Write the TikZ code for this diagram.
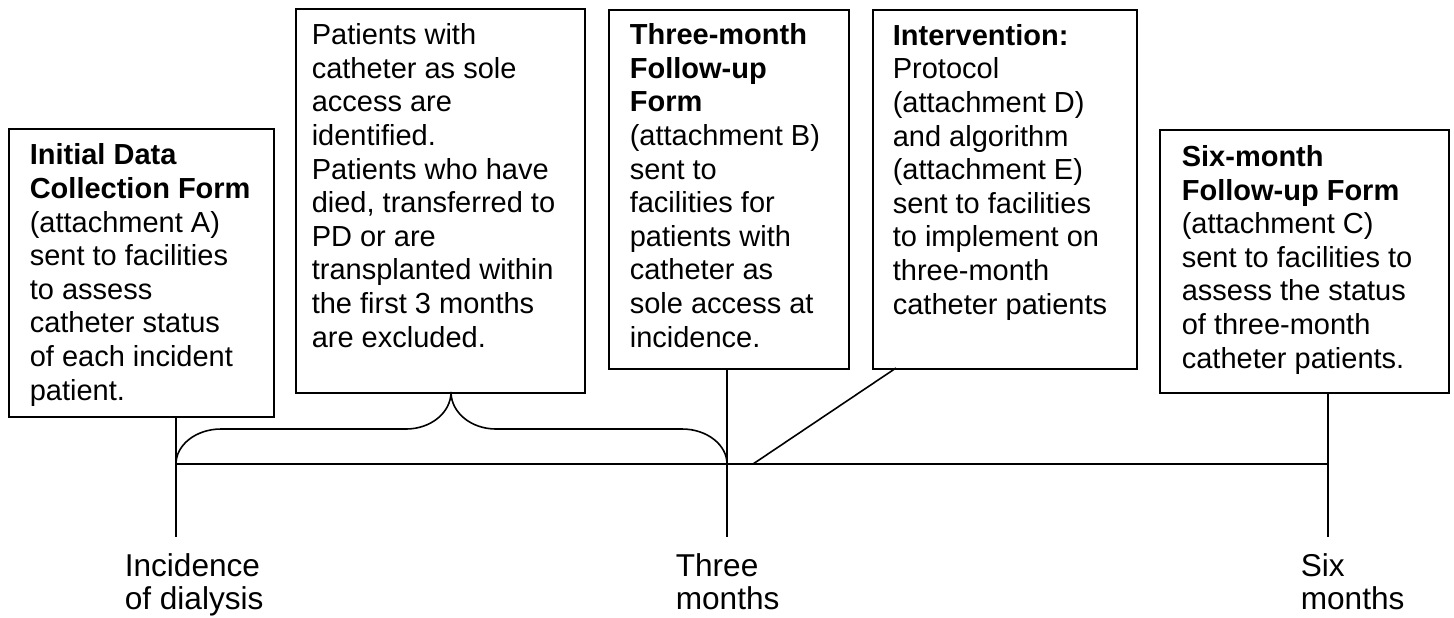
\documentclass[tikz,border=0pt]{standalone}
\usepackage{fontspec}
\setmainfont{Liberation Sans}
\begin{document}
\begin{tikzpicture}[x=0.5pt,y=-0.5pt, line width=0.8pt,
  boxnode/.style={draw, rectangle, inner sep=0pt, anchor=north west},
  boxtext/.style={anchor=base west, inner sep=0pt, align=left, font=\fontsize{14.5pt}{16.8pt}\selectfont},
  lbl/.style={anchor=base west, inner sep=0pt, align=left, font=\fontsize{15.8pt}{16.5pt}\selectfont}]
\useasboundingbox (0,0) rectangle (1454,617);
% boxes
\node[boxnode, minimum width=132.5pt, minimum height=144pt] (b1) at (8,128) {};
\node[boxnode, minimum width=144.5pt, minimum height=192pt] (b2) at (295,8) {};
\node[boxnode, minimum width=120pt, minimum height=179.5pt] (b3) at (608,9) {};
\node[boxnode, minimum width=132pt, minimum height=179.5pt] (b4) at (872,9) {};
\node[boxnode, minimum width=144.5pt, minimum height=131.5pt] (b5) at (1159,129) {};
% box texts (anchored at the baseline of their last line)
\node[boxtext] (t1) at (29,400) {\textbf{Initial Data}\\\textbf{Collection Form}\\(attachment A)\\sent to facilities\\to assess\\catheter status\\of each incident\\patient.};
\node[boxtext] (t2) at (311,347) {Patients with\\catheter as sole\\access are\\identified.\\Patients who have\\died, transferred to\\PD or are\\transplanted within\\the first 3 months\\are excluded.};
\node[boxtext] (t3) at (629,347) {\textbf{Three-month}\\\textbf{Follow-up}\\\textbf{Form}\\(attachment B)\\sent to\\facilities for\\patients with\\catheter as\\sole access at\\incidence.};
\node[boxtext] (t4) at (892,314) {\textbf{Intervention:}\\Protocol\\(attachment D)\\and algorithm\\(attachment E)\\sent to facilities\\to implement on\\three-month\\catheter patients};
\node[boxtext] (t5) at (1181,368) {\textbf{Six-month}\\\textbf{Follow-up Form}\\(attachment C)\\sent to facilities to\\assess the status\\of three-month\\catheter patients.};
% timeline labels
\node[lbl] (l1) at (124,609) {Incidence\\of dialysis};
\node[lbl] (l2) at (675,609) {Three\\months};
\node[lbl] (l3) at (1300,609) {Six\\months};
% coordinates
\coordinate (i0) at (176,464);
\coordinate (i1) at (176,537);
\coordinate (m0) at (727,464);
\coordinate (m1) at (727,537);
\coordinate (s0) at (1328,464);
\coordinate (s1) at (1328,537);
\coordinate (tip) at (451,392);
\coordinate (d0) at (753,464);
\coordinate (d1) at (896,368);
% lines
\draw (i0 |- b1.south) -- (i1);
\draw (m0 |- b3.south) -- (m1);
\draw (s0 |- b5.south) -- (s1);
\draw (i0) -- (s0);
\draw (d0) -- (d1);
% brace
\draw (i0) .. controls (176,444.7) and (196.2,429) .. (221,429) -- (406,429)
  .. controls (430.8,429) and (451,412.6) .. (tip)
  .. controls (451,412.6) and (471.2,429) .. (496,429) -- (682,429)
  .. controls (706.8,429) and (727,444.7) .. (m0);
\end{tikzpicture}
\end{document}
